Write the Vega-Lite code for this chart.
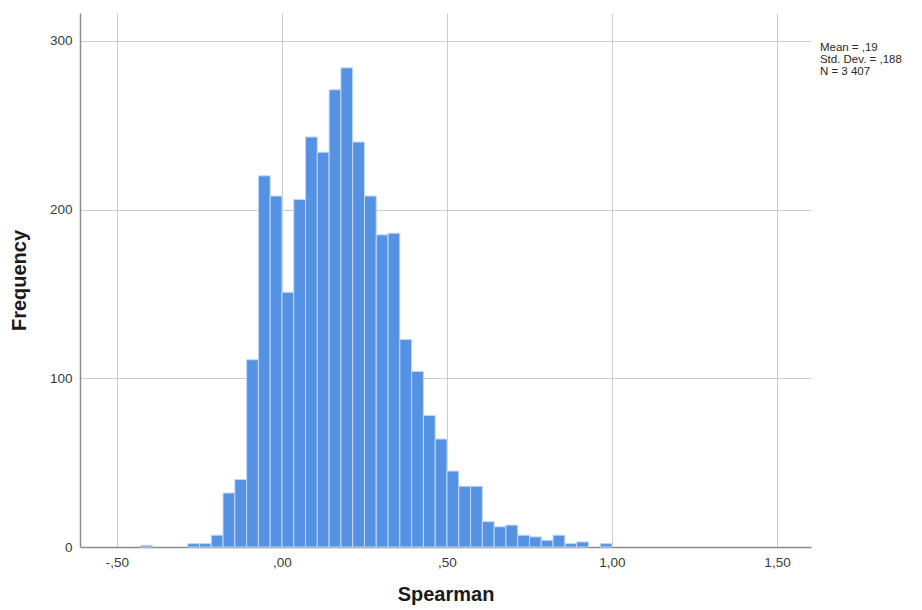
{
  "$schema": "https://vega.github.io/schema/vega-lite/v6.json",
  "width": 731,
  "height": 534,
  "autosize": {"type": "none"},
  "padding": {"left": 80, "top": 13, "right": 111, "bottom": 63},
  "background": "#ffffff",
  "config": {
    "view": {"stroke": null},
    "font": "Liberation Sans",
    "axis": {
      "domainColor": "#8c8c8c",
      "domainWidth": 1.5,
      "gridColor": "#cccccc",
      "gridWidth": 1,
      "ticks": false,
      "labelFont": "Liberation Sans",
      "labelFontSize": 13.5,
      "labelColor": "#3a3a3a",
      "labelPadding": 8,
      "titleFont": "Liberation Sans",
      "titleFontSize": 20,
      "titleFontWeight": "bold",
      "titleColor": "#1a1a1a"
    }
  },
  "datasets": {
    "bins": [
      {"lo": -0.4286, "hi": -0.3929, "count": 1},
      {"lo": -0.2857, "hi": -0.2500, "count": 2},
      {"lo": -0.2500, "hi": -0.2143, "count": 2},
      {"lo": -0.2143, "hi": -0.1786, "count": 7},
      {"lo": -0.1786, "hi": -0.1429, "count": 32},
      {"lo": -0.1429, "hi": -0.1071, "count": 40},
      {"lo": -0.1071, "hi": -0.0714, "count": 111},
      {"lo": -0.0714, "hi": -0.0357, "count": 220},
      {"lo": -0.0357, "hi": 0.0000, "count": 208},
      {"lo": 0.0000, "hi": 0.0357, "count": 151},
      {"lo": 0.0357, "hi": 0.0714, "count": 206},
      {"lo": 0.0714, "hi": 0.1071, "count": 243},
      {"lo": 0.1071, "hi": 0.1429, "count": 234},
      {"lo": 0.1429, "hi": 0.1786, "count": 271},
      {"lo": 0.1786, "hi": 0.2143, "count": 284},
      {"lo": 0.2143, "hi": 0.2500, "count": 240},
      {"lo": 0.2500, "hi": 0.2857, "count": 208},
      {"lo": 0.2857, "hi": 0.3214, "count": 185},
      {"lo": 0.3214, "hi": 0.3571, "count": 186},
      {"lo": 0.3571, "hi": 0.3929, "count": 123},
      {"lo": 0.3929, "hi": 0.4286, "count": 104},
      {"lo": 0.4286, "hi": 0.4643, "count": 78},
      {"lo": 0.4643, "hi": 0.5000, "count": 64},
      {"lo": 0.5000, "hi": 0.5357, "count": 45},
      {"lo": 0.5357, "hi": 0.5714, "count": 36},
      {"lo": 0.5714, "hi": 0.6071, "count": 36},
      {"lo": 0.6071, "hi": 0.6429, "count": 15},
      {"lo": 0.6429, "hi": 0.6786, "count": 12},
      {"lo": 0.6786, "hi": 0.7143, "count": 13},
      {"lo": 0.7143, "hi": 0.7500, "count": 7},
      {"lo": 0.7500, "hi": 0.7857, "count": 6},
      {"lo": 0.7857, "hi": 0.8214, "count": 4},
      {"lo": 0.8214, "hi": 0.8571, "count": 7},
      {"lo": 0.8571, "hi": 0.8929, "count": 2},
      {"lo": 0.8929, "hi": 0.9286, "count": 3},
      {"lo": 0.9643, "hi": 1.0000, "count": 2}
    ],
    "stats": [
      {"label": "Mean = ,19\nStd. Dev. = ,188\nN = 3 407"}
    ]
  },
  "layer": [
    {
      "data": {"name": "bins"},
      "mark": {"type": "bar", "color": "#5592e3", "stroke": "#c2d8f5", "strokeWidth": 1},
      "encoding": {
        "x": {
          "field": "lo",
          "type": "quantitative",
          "scale": {"domain": [-0.612, 1.603], "nice": false, "zero": false},
          "axis": {
            "title": "Spearman",
            "titlePadding": 16,
            "values": [-0.5, 0, 0.5, 1, 1.5],
            "labelExpr": "replace(replace(replace(format(datum.value, '.2f'), '0.', ','), '.', ','), '\u2212', '-')",
            "grid": true
          }
        },
        "x2": {"field": "hi"},
        "y": {
          "field": "count",
          "type": "quantitative",
          "scale": {"domain": [0, 316.5], "nice": false},
          "axis": {
            "title": "Frequency",
            "titlePadding": 20,
            "values": [0, 100, 200, 300],
            "grid": true
          }
        },
        "y2": {"datum": 0}
      }
    },
    {
      "data": {"name": "stats"},
      "mark": {
        "type": "text",
        "align": "left",
        "baseline": "top",
        "lineBreak": "\n",
        "lineHeight": 12,
        "fontSize": 11.5,
        "font": "Liberation Sans",
        "color": "#2a2a2a"
      },
      "encoding": {
        "x": {"datum": 1.63},
        "y": {"datum": 299.5},
        "text": {"field": "label"}
      }
    }
  ]
}
